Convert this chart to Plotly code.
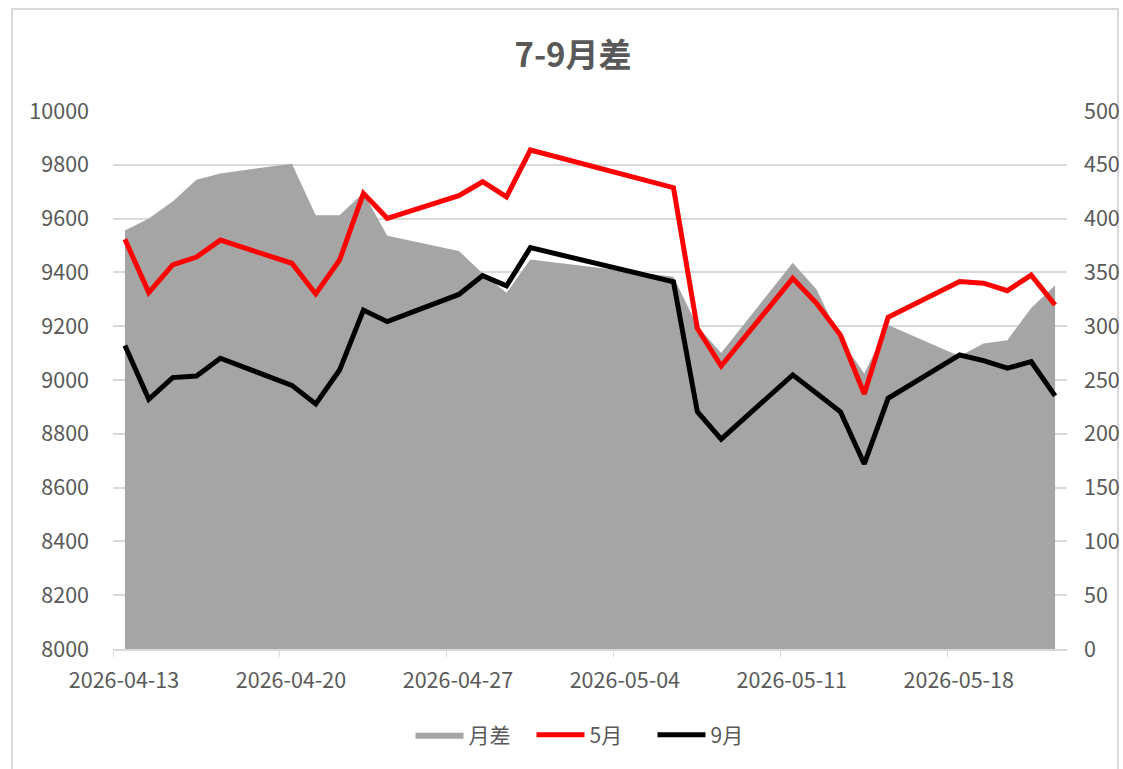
import plotly.graph_objects as go

dates = ["2026-04-13", "2026-04-14", "2026-04-15", "2026-04-16", "2026-04-17",
         "2026-04-20", "2026-04-21", "2026-04-22", "2026-04-23", "2026-04-24",
         "2026-04-27", "2026-04-28", "2026-04-29", "2026-04-30",
         "2026-05-06", "2026-05-07", "2026-05-08",
         "2026-05-11", "2026-05-12", "2026-05-13", "2026-05-14", "2026-05-15",
         "2026-05-18", "2026-05-19", "2026-05-20", "2026-05-21", "2026-05-22"]

may = [9523, 9325, 9428, 9457, 9520,
       9434, 9320, 9446, 9694, 9601,
       9685, 9737, 9681, 9855,
       9715, 9192, 9052,
       9378, 9285, 9167, 8948, 9233,
       9366, 9360, 9332, 9390, 9279]

sep = [9128, 8928, 9009, 9015, 9081,
       8980, 8911, 9037, 9260, 9217,
       9318, 9388, 9350, 9492,
       9365, 8882, 8780,
       9019, 8951, 8882, 8688, 8932,
       9093, 9072, 9044, 9068, 8941]

spread = [389, 400, 416, 436, 442,
          451, 403, 403, 424, 384,
          370, 349, 331, 362,
          346, 300, 275,
          359, 334, 288, 256, 301,
          272, 284, 287, 317, 338]

FONT = "Noto Sans CJK SC"
TXT = "#595959"
GRID = "#d9d9d9"
DAY = 86400000
TS = 21.5

fig = go.Figure()
fig.add_trace(go.Scatter(x=dates, y=spread, name="月差", mode="lines",
                         line=dict(width=0, color="#a5a5a5"), fill="tozeroy",
                         fillcolor="#a5a5a5", yaxis="y",
                         xperiod=DAY, xperiodalignment="middle"))
fig.add_trace(go.Scatter(x=dates, y=may, name="5月", mode="lines",
                         line=dict(width=5, color="#ff0000"), yaxis="y2",
                         xperiod=DAY, xperiodalignment="middle"))
fig.add_trace(go.Scatter(x=dates, y=sep, name="9月", mode="lines",
                         line=dict(width=5, color="#000000"), yaxis="y2",
                         xperiod=DAY, xperiodalignment="middle"))

fig.update_layout(
    width=1123, height=769,
    margin=dict(l=113, r=56, t=111, b=120, autoexpand=False),
    paper_bgcolor="white", plot_bgcolor="white",
    font=dict(family=FONT, color=TXT, size=TS),
    title=dict(text="<b>7-9月差</b>", x=573 / 1123, xref="container", xanchor="center",
               y=1 - 55 / 769, yref="container", yanchor="middle",
               font=dict(size=33, color=TXT, family=FONT)),
    showlegend=True,
    legend=dict(orientation="h", x=(592 - 113) / 954, xanchor="center",
                y=-0.16, yanchor="middle",
                font=dict(size=21, color=TXT, family=FONT), traceorder="normal",
                itemwidth=48, entrywidth=58, entrywidthmode="pixels"),
    xaxis=dict(type="date", range=["2026-04-13", "2026-05-23"],
               tick0="2026-04-13", dtick=7 * DAY, tickformat="%Y-%m-%d",
               showgrid=False, showline=True, linecolor=GRID, linewidth=1.5,
               ticks="outside", ticklen=6, tickcolor=GRID,
               ticklabelstandoff=5, ticklabelshift=11, zeroline=False,
               tickfont=dict(size=TS, color=TXT, family=FONT)),
    yaxis=dict(side="right", range=[0, 500], dtick=50, showgrid=True,
               gridcolor=GRID, gridwidth=1.5, zeroline=False, showline=False,
               ticks="", ticklabelstandoff=16, tickformat="d",
               tickfont=dict(size=TS, color=TXT, family=FONT)),
    yaxis2=dict(side="left", overlaying="y", range=[8000, 10000], dtick=200,
                showgrid=False, zeroline=False, showline=False, ticks="",
                ticklabelstandoff=23, tickformat="d",
                tickfont=dict(size=TS, color=TXT, family=FONT)),
)

fig.add_shape(type="rect", xref="paper", yref="paper",
              x0=(12 - 113) / 954, x1=(1118 - 113) / 954,
              y0=(649 - 772) / 538, y1=(649 - 9) / 538,
              line=dict(color=GRID, width=2), fillcolor="rgba(0,0,0,0)", layer="below")

fig.write_html("out.html", config={"displayModeBar": False},
               post_script="document.body.style.margin='0';document.body.style.overflow='hidden';")
